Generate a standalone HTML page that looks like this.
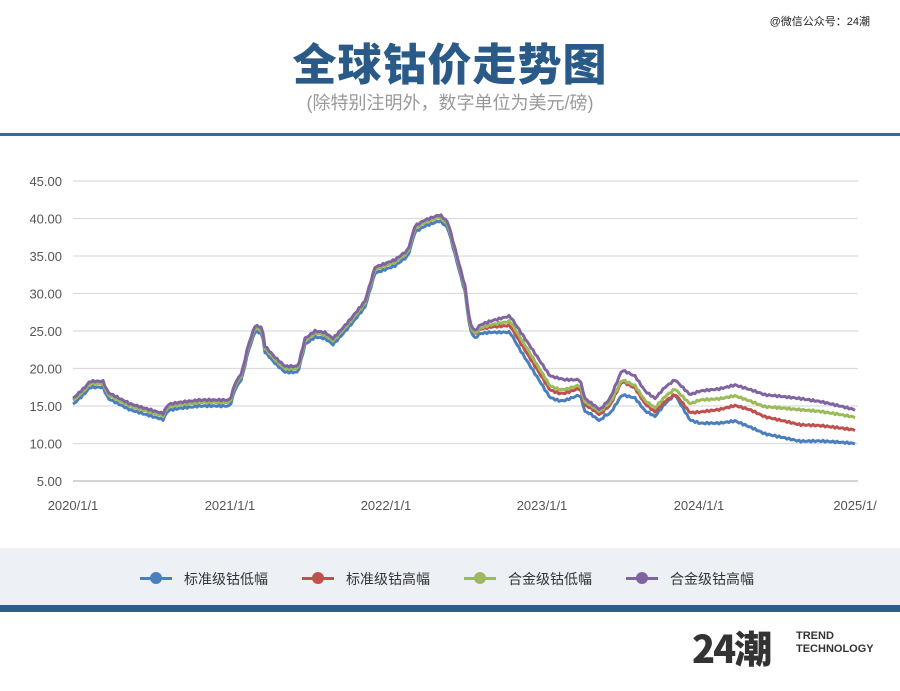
<!DOCTYPE html>
<html><head><meta charset="utf-8"><style>
body{margin:0;width:900px;height:691px;background:#fff;position:relative;overflow:hidden;font-family:"Liberation Sans","Noto Sans CJK SC",sans-serif}
.t{position:absolute;left:0;width:900px;text-align:center}
</style></head><body>
<div style="position:absolute;right:30px;top:13px;font-size:11px;color:#222">@微信公众号：24潮</div>
<div class="t" style="top:36px;height:50px;line-height:50px;font-size:44px;font-weight:900;color:#2a5a87;letter-spacing:1px;font-family:'Noto Sans CJK SC',sans-serif">全球钴价走势图</div>
<div class="t" style="top:91px;line-height:24px;font-size:18px;color:#999">(除特别注明外，数字单位为美元/磅)</div>
<div style="position:absolute;left:0;top:133px;width:900px;height:3px;background:#3a6793"></div>
<svg width="900" height="691" style="position:absolute;left:0;top:0" id="s">
<g id="grid" stroke="#dcdcdc" stroke-width="1.2"></g>
<g id="yl" font-size="13" fill="#555" text-anchor="end" font-family="Liberation Sans,sans-serif"></g>
<g font-size="13" fill="#555" text-anchor="middle" font-family="Liberation Sans,sans-serif">
<text x="73" y="510">2020/1/1</text><text x="230" y="510">2021/1/1</text><text x="386" y="510">2022/1/1</text><text x="542" y="510">2023/1/1</text><text x="699" y="510">2024/1/1</text><text x="855" y="510">2025/1/</text></g>
<g id="ln" fill="none" stroke-width="3" stroke-linejoin="round"></g>
</svg>
<div style="position:absolute;left:0;top:548px;width:900px;height:57px;background:#edf1f6"></div>
<div style="position:absolute;left:0;top:605px;width:900px;height:7px;background:#2e5f8c"></div>
<div style="position:absolute;top:567px;left:0;width:900px;font-size:14px;color:#333">
<span style="position:absolute;left:140px;top:10px;width:32px;height:3px;background:#4a7fbd"></span><span style="position:absolute;left:150px;top:5px;width:12px;height:12px;border-radius:50%;background:#4a7fbd"></span><span style="position:absolute;left:184px;top:2px">标准级钴低幅</span>
<span style="position:absolute;left:302px;top:10px;width:32px;height:3px;background:#c0504d"></span><span style="position:absolute;left:312px;top:5px;width:12px;height:12px;border-radius:50%;background:#c0504d"></span><span style="position:absolute;left:346px;top:2px">标准级钴高幅</span>
<span style="position:absolute;left:464px;top:10px;width:32px;height:3px;background:#9bbb59"></span><span style="position:absolute;left:474px;top:5px;width:12px;height:12px;border-radius:50%;background:#9bbb59"></span><span style="position:absolute;left:508px;top:2px">合金级钴低幅</span>
<span style="position:absolute;left:626px;top:10px;width:32px;height:3px;background:#8064a2"></span><span style="position:absolute;left:636px;top:5px;width:12px;height:12px;border-radius:50%;background:#8064a2"></span><span style="position:absolute;left:670px;top:2px">合金级钴高幅</span>
</div>
<div style="position:absolute;left:692px;top:626px;font-size:38px;font-weight:900;color:#333;font-family:'Noto Sans CJK SC',sans-serif;line-height:42px;letter-spacing:-2px">24潮</div>
<div style="position:absolute;left:796px;top:630px;font-size:11px;font-weight:bold;color:#333;line-height:13px">TREND<br>TECHNOLOGY</div>
<script>
const Y=v=>481-(v-5)*7.5, NS="http://www.w3.org/2000/svg";
const g=document.getElementById('grid'),yl=document.getElementById('yl');
for(let v=5;v<=45;v+=5){let l=document.createElementNS(NS,'line');l.setAttribute('x1',73);l.setAttribute('x2',858);l.setAttribute('y1',Y(v));l.setAttribute('y2',Y(v));if(v==5)l.setAttribute('stroke','#bbb');g.appendChild(l);
let t=document.createElementNS(NS,'text');t.setAttribute('x',62);t.setAttribute('y',Y(v)+5);t.textContent=v.toFixed(2);yl.appendChild(t);}
const P=[[73,16],[85,17.5],[90,18.3],[103,18.3],[108,16.8],[130,15.3],[150,14.5],[163,14],[168,15.2],[180,15.5],[200,15.8],[230,15.8],[235,18],[242,19.5],[248,23],[255,25.7],[262,25.5],[265,23],[275,21.5],[285,20.3],[298,20.3],[305,24],[315,25],[325,24.8],[333,24],[340,25],[350,26.5],[365,29],[375,33.5],[395,34.5],[408,35.8],[415,39],[425,39.8],[440,40.5],[448,39.5],[455,36],[465,31],[470,26],[475,25],[480,25.8],[490,26.3],[510,27],[520,25],[530,23],[540,21],[550,19],[565,18.5],[580,18.5],[585,16],[600,14.5],[610,16],[622,19.8],[635,19],[645,17],[655,16],[665,17.5],[675,18.5],[690,16.5],[700,17],[720,17.3],[735,17.8],[750,17.2],[765,16.5],[780,16.3],[800,16],[820,15.6],[840,15],[855,14.5]];
function interp(o,x){if(x<=o[0][0])return o[0][1];for(let i=1;i<o.length;i++)if(x<=o[i][0]){let a=o[i-1],b=o[i];return a[1]+(b[1]-a[1])*(x-a[0])/(b[0]-a[0]);}return o[o.length-1][1];}
const S=[["#4a7fbd",[[73,0.8],[470,0.8],[520,2.5],[560,3],[590,1.5],[605,1.5],[622,3.3],[650,2.5],[675,2],[700,4.3],[750,5],[800,5.7],[855,4.5]]],
["#c0504d",[[73,0.3],[470,0.3],[520,1.5],[560,2],[590,0.7],[605,0.7],[622,1.5],[680,2],[700,2.8],[750,2.7],[800,3.5],[855,2.7]]],
["#9bbb59",[[73,0.3],[470,0.3],[520,0.8],[560,1.5],[590,0.3],[605,0.3],[622,1.3],[700,1.2],[760,1.6],[800,1.5],[855,1.0]]],
["#8064a2",[[73,0],[855,0]]]];
const ln=document.getElementById('ln');
for(const [c,o] of S){let pts=[];for(let x=73;x<=855;x+=2){let v=interp(P,x)-interp(o,x)+0.12*Math.sin(x*1.3);pts.push(x+","+Y(v).toFixed(1));}
let p=document.createElementNS(NS,'polyline');p.setAttribute('points',pts.join(' '));p.setAttribute('stroke',c);ln.appendChild(p);}
</script>
</body></html>
